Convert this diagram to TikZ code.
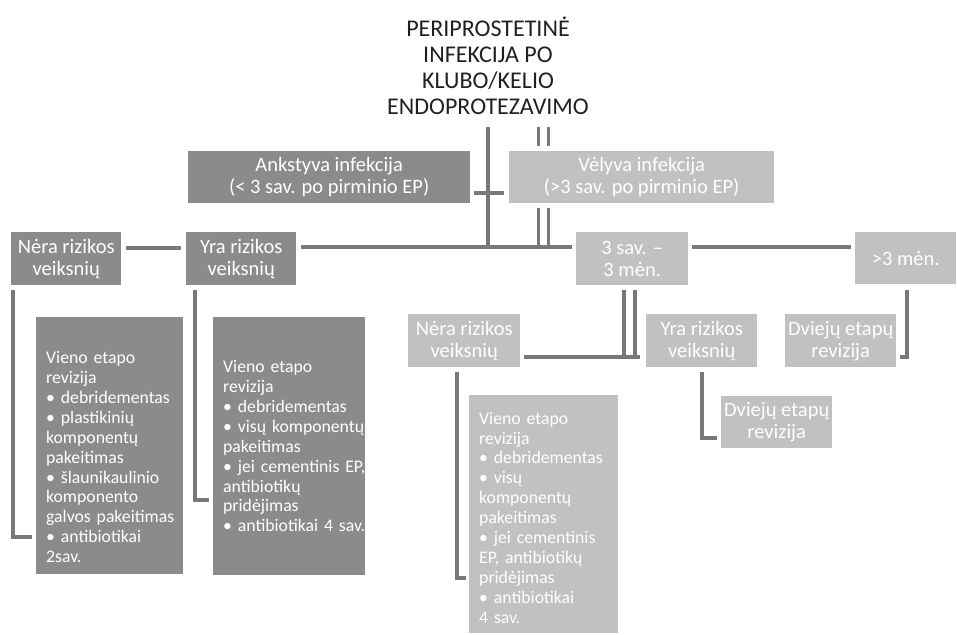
\documentclass[tikz,border=0pt]{standalone}
\usepackage{fontspec}
\setmainfont{Carlito}
\usetikzlibrary{calc}
\definecolor{dk}{HTML}{8A8B8D}
\definecolor{lt}{HTML}{C0C1C3}
\definecolor{ln}{HTML}{77787A}
\definecolor{tt}{HTML}{231F20}
\newcommand\bsetup{\leftskip=10pt\rightskip=-40pt plus 1fil\parfillskip=0pt\parindent=0pt\hyphenpenalty=10000\exhyphenpenalty=10000\relax}
\begin{document}
\begin{tikzpicture}[x=1pt,y=-1pt,
  lbl/.style={anchor=north west, inner sep=0pt, align=center, text=white,
    font=\fontsize{20.5}{22}\selectfont},
  dkbox/.style={fill=dk},
  ltbox/.style={fill=lt},
  blt/.style={anchor=north west, inner sep=0pt, text=white,
    font=\fontsize{17.7}{19.9}\selectfont},
  conn/.style={draw=ln, line width=4pt},
  ttl/.style={text=tt, align=center, inner sep=0pt, font=\fontsize{24}{26}\selectfont}
  ]
\useasboundingbox (0,0) rectangle (957,634);

% title
\node[ttl] (title) at (488,66) {PERIPROSTETINĖ\\INFEKCIJA PO\\KLUBO/KELIO\\ENDOPROTEZAVIMO};

% level 1
\node[lbl,dkbox,minimum width=282pt,minimum height=52pt] (ank) at (188,151)
  {Ankstyva infekcija\\(< 3 sav. po pirminio EP)};
\node[lbl,ltbox,minimum width=265pt,minimum height=52pt] (vel) at (509,151)
  {Vėlyva infekcija\\(>3 sav. po pirminio EP)};

% level 2
\node[lbl,dkbox,minimum width=110pt,minimum height=53pt] (nl) at (11,232)
  {Nėra rizikos\\veiksnių};
\node[lbl,dkbox,minimum width=110pt,minimum height=53pt] (yl) at (186,232)
  {Yra rizikos\\veiksnių};
\node[lbl,ltbox,minimum width=112pt,minimum height=53pt] (s3) at (576,232)
  {3 sav. –\\3 mėn.};
\node[lbl,ltbox,minimum width=101pt,minimum height=52pt] (m3) at (855,232)
  {>3 mėn.};

% level 3 right
\node[lbl,ltbox,minimum width=112pt,minimum height=53pt] (nr) at (408,314)
  {Nėra rizikos\\veiksnių};
\node[lbl,ltbox,minimum width=111pt,minimum height=53pt] (yr) at (646,314)
  {Yra rizikos\\veiksnių};
\node[lbl,ltbox,minimum width=111pt,minimum height=53pt] (dt) at (785,314)
  {Dviejų etapų\\revizija};
\node[lbl,ltbox,minimum width=111pt,minimum height=52pt] (dl) at (721,396)
  {Dviejų etapų\\revizija};

% bullet boxes
\node[blt,dkbox,text width=147pt,minimum height=257pt] (b1) at (36,317)
  {\bsetup\rule{0pt}{35pt}Vieno etapo\\revizija\\• debridementas\\• plastikinių\\komponentų\\pakeitimas\\• šlaunikaulinio\\komponento\\galvos pakeitimas\\• antibiotikai\\2sav.\par};
\node[blt,dkbox,text width=152pt,minimum height=258pt] (b2) at (213,317)
  {\bsetup Vieno etapo\\revizija\\• debridementas\\• visų komponentų\\pakeitimas\\• jei cementinis EP,\\antibiotikų\\pridėjimas\\• antibiotikai 4 sav.\par};
\node[blt,ltbox,text width=149pt,minimum height=238pt] (b3) at (469,395)
  {\bsetup\rule{0pt}{19pt}Vieno etapo\\revizija\\• debridementas\\• visų\\komponentų\\pakeitimas\\• jei cementinis\\EP, antibiotikų\\pridėjimas\\• antibiotikai\\4 sav.\par};

% connectors
\draw[conn] (title.south |- 0,127) -- (title.south |- 0,249);
\draw[conn] ($(ank.east |- 0,193)+(4,0)$) -- ($(vel.west |- 0,193)+(-5,0)$);
\draw[conn,line width=3.5pt] ($(vel.north west)+(29.5,-24)$) -- ($(vel.north west)+(29.5,-5)$);
\draw[conn,line width=3.5pt] ($(vel.north west)+(39.5,-24)$) -- ($(vel.north west)+(39.5,-5)$);
\draw[conn,line width=3.5pt] ($(vel.south west)+(29.5,5)$) -- ($(vel.south west)+(29.5,46)$);
\draw[conn,line width=3.5pt] ($(vel.south west)+(39.5,5)$) -- ($(vel.south west)+(39.5,46)$);
\draw[conn] ($(yl.east |- 0,247)+(5,0)$) -- ($(s3.west |- 0,247)+(-4,0)$);
\draw[conn] ($(nl.east |- 0,248)+(5,0)$) -- ($(yl.west |- 0,248)+(-5,0)$);
\draw[conn] ($(s3.east |- 0,247)+(4,0)$) -- ($(m3.west |- 0,247)+(-4,0)$);
\draw[conn] ($(nl.south west)+(2,5)$) |- ($(b1.west |- 0,537)+(-4,0)$);
\draw[conn] ($(yl.south west)+(9,5)$) |- ($(b2.west |- 0,500)+(-4,0)$);
\draw[conn,line width=3.5pt] ($(s3.south west)+(48,5)$) -- ($(s3.south west)+(48,74)$);
\draw[conn,line width=3.5pt] ($(s3.south west)+(59,5)$) -- ($(s3.south west)+(59,74)$);
\draw[conn] ($(nr.east |- 0,357)+(4,0)$) -- ($(yr.west |- 0,357)+(-6,0)$);
\draw[conn] ($(nr.south west)+(49,5)$) |- ($(b3.west |- 0,578)+(-3,0)$);
\draw[conn] ($(yr.south west)+(56,5)$) |- ($(dl.west |- 0,438)+(-4,0)$);
\draw[conn] ($(m3.south west)+(52,6)$) |- ($(dt.east |- 0,357)+(4,0)$);
\end{tikzpicture}
\end{document}
